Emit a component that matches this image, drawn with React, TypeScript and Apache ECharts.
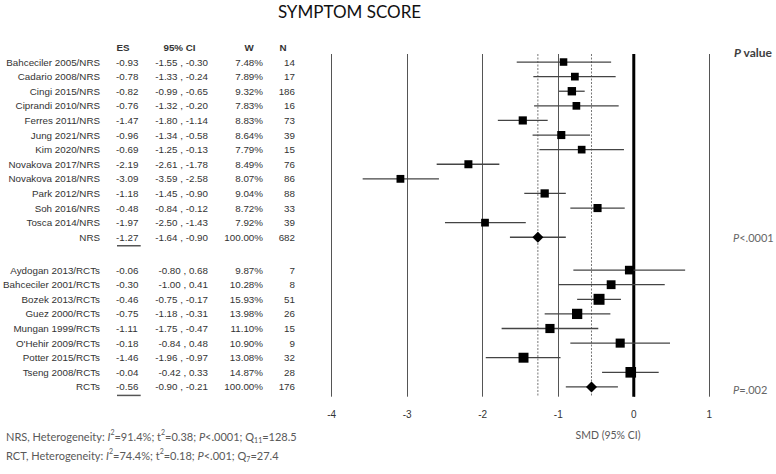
import React, { useEffect, useRef } from 'react';
import * as echarts from 'echarts';

const nrsStudies = ['Bahceciler 2005/NRS', 'Cadario 2008/NRS', 'Cingi 2015/NRS', 'Ciprandi 2010/NRS', 'Ferres 2011/NRS', 'Jung 2021/NRS', 'Kim 2020/NRS', 'Novakova 2017/NRS', 'Novakova 2018/NRS', 'Park 2012/NRS', 'Soh 2016/NRS', 'Tosca 2014/NRS'];
const nrsES = [-0.93, -0.78, -0.82, -0.76, -1.47, -0.96, -0.69, -2.19, -3.09, -1.18, -0.48, -1.97];
const nrsLo = [-1.55, -1.33, -0.99, -1.32, -1.80, -1.34, -1.25, -2.61, -3.59, -1.45, -0.84, -2.50];
const nrsHi = [-0.30, -0.24, -0.65, -0.20, -1.14, -0.58, -0.13, -1.78, -2.58, -0.90, -0.12, -1.43];
const nrsW = [7.48, 7.89, 9.32, 7.83, 8.83, 8.64, 7.79, 8.49, 8.07, 9.04, 8.72, 7.92];
const nrsN = [14, 17, 186, 16, 73, 39, 15, 76, 86, 88, 33, 39];
const nrsPooled = { label: 'NRS', es: -1.27, lo: -1.64, hi: -0.90, w: 100, n: 682 };

const rctStudies = ['Aydogan 2013/RCTs', 'Bahceciler 2001/RCTs', 'Bozek 2013/RCTs', 'Guez 2000/RCTs', 'Mungan 1999/RCTs', "O'Hehir 2009/RCTs", 'Potter 2015/RCTs', 'Tseng 2008/RCTs'];
const rctES = [-0.06, -0.30, -0.46, -0.75, -1.11, -0.18, -1.46, -0.04];
const rctLo = [-0.80, -1.00, -0.75, -1.18, -1.75, -0.84, -1.96, -0.42];
const rctHi = [0.68, 0.41, -0.17, -0.31, -0.47, 0.48, -0.97, 0.33];
const rctW = [9.87, 10.28, 15.93, 13.98, 11.10, 10.90, 13.08, 14.87];
const rctN = [7, 8, 51, 26, 15, 9, 32, 28];
const rctPooled = { label: 'RCTs', es: -0.56, lo: -0.90, hi: -0.21, w: 100, n: 176 };

const xMin = -4;
const xMax = 1;
const xStep = 1;
const headers = ['ES', '95% CI', 'W', 'N'];
const pValues = ['P<.0001', 'P=.002'];

type Row = { label: string; es: number; lo: number; hi: number; w: number; n: number; pos: number; summary: boolean };

const RCT_OFFSET = 14.25;
const rows: Row[] = [];
nrsStudies.forEach((s, i) => rows.push({ label: s, es: nrsES[i], lo: nrsLo[i], hi: nrsHi[i], w: nrsW[i], n: nrsN[i], pos: i, summary: false }));
rows.push({ ...nrsPooled, pos: nrsStudies.length, summary: true });
rctStudies.forEach((s, i) => rows.push({ label: s, es: rctES[i], lo: rctLo[i], hi: rctHi[i], w: rctW[i], n: rctN[i], pos: RCT_OFFSET + i, summary: false }));
rows.push({ ...rctPooled, pos: RCT_OFFSET + rctStudies.length, summary: true });

const TF = 'Liberation Sans, Arial, sans-serif';
const CF = 'Lato, "Open Sans", sans-serif';
const TS = 9.8;

function txt(x: number, y: number, text: string, align: string, opts: any = {}) {
  return {
    type: 'text',
    x,
    y,
    style: {
      text,
      align,
      verticalAlign: 'middle',
      textAlign: align,
      textVerticalAlign: 'middle',
      fontSize: opts.fontSize ?? TS,
      fontFamily: opts.fontFamily ?? TF,
      fontWeight: opts.fontWeight ?? 'normal',
      fill: opts.fill ?? '#333',
    },
  };
}

export default function App() {
  const ref = useRef<HTMLDivElement>(null);
  useEffect(() => {
    if (!ref.current) return;
    const chart = echarts.init(ref.current, undefined, { renderer: 'svg' });
    const base = { fontFamily: CF, fontSize: 11, fill: '#595959', lineHeight: 15 };
    const richBottom = {
      i: { fontFamily: CF, fontSize: 11, fontStyle: 'italic', fill: '#595959', lineHeight: 15 },
      sup: { fontFamily: CF, fontSize: 7, fill: '#595959', lineHeight: 8, verticalAlign: 'top' },
      sub: { fontFamily: CF, fontSize: 7, fill: '#595959', lineHeight: 8, verticalAlign: 'bottom' },
    };
    const option: any = {
      animation: false,
      backgroundColor: '#fff',
      grid: { left: 331.7, right: 66.7, top: 54, bottom: 77.3 },
      xAxis: {
        type: 'value',
        min: xMin,
        max: xMax,
        interval: xStep,
        axisLine: { show: false },
        axisTick: { show: false },
        splitLine: { show: true, lineStyle: { color: '#555', width: 1 } },
        axisLabel: { margin: 13, fontSize: 10, color: '#333', fontFamily: TF },
      },
      yAxis: {
        type: 'value',
        inverse: true,
        min: -0.55,
        max: 22.92,
        show: false,
        splitLine: { show: false },
      },
      series: [
        {
          type: 'custom',
          name: 'ref',
          clip: false,
          data: [[0, 0], [nrsPooled.es, 1], [rctPooled.es, 1]],
          renderItem: (params: any, api: any) => {
            const cs = params.coordSys;
            const x = api.coord([api.value(0), 0])[0];
            const dotted = api.value(1) === 1;
            return {
              type: 'line',
              shape: { x1: x, y1: cs.y, x2: x, y2: cs.y + cs.height },
              style: dotted
                ? { stroke: '#777', lineWidth: 1, lineDash: [2, 1.5] }
                : { stroke: '#000', lineWidth: 3 },
            };
          },
        },
        {
          type: 'custom',
          name: 'studies',
          clip: false,
          data: rows.map((r) => [r.es, r.pos, r.lo, r.hi, r.w, r.summary ? 1 : 0]),
          renderItem: (params: any, api: any) => {
            const es = api.value(0), pos = api.value(1), lo = api.value(2), hi = api.value(3), w = api.value(4), sm = api.value(5);
            const c = api.coord([es, pos]);
            const l = api.coord([lo, pos]);
            const h = api.coord([hi, pos]);
            const children: any[] = [
              { type: 'line', shape: { x1: l[0], y1: c[1], x2: h[0], y2: c[1] }, style: { stroke: '#444', lineWidth: 1.3 } },
            ];
            if (sm) {
              const r = 5.5;
              children.push({ type: 'polygon', shape: { points: [[c[0] - r, c[1]], [c[0], c[1] - r], [c[0] + r, c[1]], [c[0], c[1] + r]] }, style: { fill: '#000' } });
            } else {
              const s = 2.75 * Math.sqrt(w);
              children.push({ type: 'rect', shape: { x: c[0] - s / 2, y: c[1] - s / 2, width: s, height: s }, style: { fill: '#000' } });
            }
            return { type: 'group', children };
          },
        },
        {
          type: 'custom',
          name: 'table',
          clip: false,
          data: rows.map((r, i) => [0, r.pos, i]),
          renderItem: (params: any, api: any) => {
            const r = rows[api.value(2)];
            const y = api.coord([0, api.value(1)])[1];
            const children: any[] = [
              txt(100, y, r.label, 'right'),
              txt(116, y, r.es.toFixed(2), 'left'),
              txt(208, y, `${r.lo.toFixed(2)} , ${r.hi.toFixed(2)}`, 'right'),
              txt(263, y, `${r.w.toFixed(2)}%`, 'right'),
              txt(295, y, String(r.n), 'right'),
            ];
            if (r.summary) {
              children.push({ type: 'line', shape: { x1: 117, y1: y + 8.5, x2: 140.7, y2: y + 8.5 }, style: { stroke: '#555', lineWidth: 1.5 } });
            }
            return { type: 'group', children };
          },
        },
      ],
      graphic: [
        { ...txt(349.5, 11, 'SYMPTOM SCORE', 'center', { fontSize: 17, fontFamily: CF, fill: '#111' }) },
        txt(123, 47.7, headers[0], 'center', { fontWeight: 'bold' }),
        txt(179.5, 47.7, headers[1], 'center', { fontWeight: 'bold' }),
        txt(249, 47.7, headers[2], 'center', { fontWeight: 'bold' }),
        txt(283, 47.7, headers[3], 'center', { fontWeight: 'bold' }),
        {
          type: 'text', x: 734, y: 52.3,
          style: {
            text: '{bi|P} value', align: 'left', verticalAlign: 'middle', textAlign: 'left', textVerticalAlign: 'middle',
            fontFamily: CF, fontSize: 12, fontWeight: 'bold', fill: '#404040',
            rich: { bi: { fontFamily: CF, fontSize: 12, fontWeight: 'bold', fontStyle: 'italic', fill: '#404040' } },
          },
        },
        ...pValues.map((p, k) => ({
          type: 'text', x: 733, y: k === 0 ? 237.3 : 389,
          style: {
            text: '{i|P}' + p.slice(1), align: 'left', verticalAlign: 'middle', textAlign: 'left', textVerticalAlign: 'middle',
            fontFamily: CF, fontSize: 11, fill: '#666',
            rich: { i: { fontFamily: CF, fontSize: 11, fontStyle: 'italic', fill: '#666' } },
          },
        })),
        {
          type: 'text', x: 6, y: 436,
          style: {
            ...base, text: 'NRS, Heterogeneity: {i|I}{sup|2}=91.4%; t{sup|2}=0.38; {i|P}<.0001; Q{sub|11}=128.5',
            align: 'left', verticalAlign: 'middle', textAlign: 'left', textVerticalAlign: 'middle', rich: richBottom,
          },
        },
        {
          type: 'text', x: 6, y: 455,
          style: {
            ...base, text: 'RCT, Heterogeneity: {i|I}{sup|2}=74.4%; t{sup|2}=0.18; {i|P}<.001; Q{sub|7}=27.4',
            align: 'left', verticalAlign: 'middle', textAlign: 'left', textVerticalAlign: 'middle', rich: richBottom,
          },
        },
        txt(608, 435, 'SMD (95% CI)', 'center', { fontFamily: CF, fontSize: 10.5, fill: '#595959' }),
      ],
    };
    chart.setOption(option);
    return () => chart.dispose();
  }, []);
  return <div ref={ref} style={{ position: 'absolute', left: 0, top: 0, width: 776, height: 474, background: '#fff' }} />;
}
